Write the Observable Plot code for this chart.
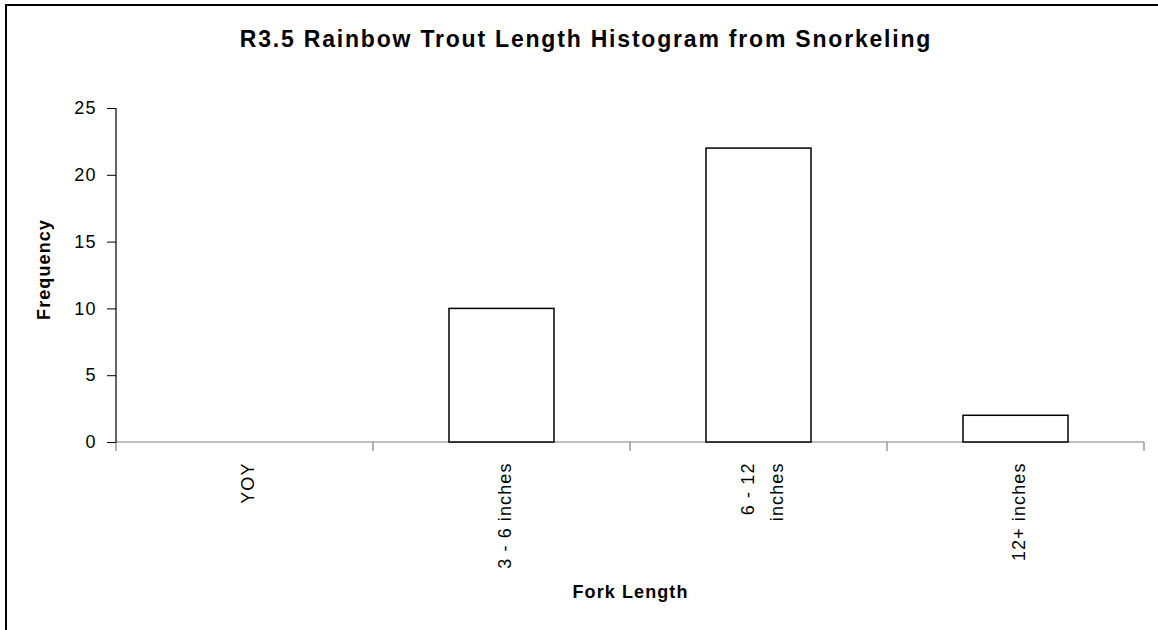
<!DOCTYPE html>
<html><head><meta charset="utf-8">
<script src="https://cdn.jsdelivr.net/npm/d3@7"></script>
<script src="https://cdn.jsdelivr.net/npm/@observablehq/plot@0.6"></script>
<style>
body{margin:0;background:#fff;}
#wrap{position:relative;width:1158px;height:630px;overflow:hidden;font-family:"Liberation Sans",Arial,sans-serif;background:#fff;}
#border{position:absolute;left:5px;top:4px;width:1200px;height:700px;border:2px solid #000;box-sizing:border-box;}
#chart{position:absolute;left:0;top:0;}
#title{position:absolute;left:0;width:1172px;top:26px;text-align:center;font-weight:bold;font-size:23px;letter-spacing:1.8px;color:#000;}
</style></head>
<body>
<div id="wrap"><div id="border"></div><div id="chart"></div><div id="title">R3.5 Rainbow Trout Length Histogram from Snorkeling</div></div>
<script>
const categories = ["YOY", "3 - 6 inches", "6 - 12\ninches", "12+ inches"];
const frequencies = [0, 10, 22, 2];
const yTicks = [0, 5, 10, 15, 20, 25];
const yLabel = "Frequency";
const xLabel = "Fork Length";

const table = categories.map((c, i) => ({category: c, frequency: frequencies[i]}));

const axisLines = (index, scales, values, dims) => {
  const x = scales.x, y = scales.y;
  const bw = x.bandwidth();
  const bounds = categories.map(c => x(c)).concat([x(categories[categories.length - 1]) + bw]);
  const g = d3.create("svg:g");
  g.append("line").attr("x1", bounds[0]).attr("x2", bounds[bounds.length - 1])
    .attr("y1", y(0)).attr("y2", y(0)).attr("stroke", "#808080").attr("stroke-width", 1.2);
  bounds.forEach(b => g.append("line").attr("x1", b).attr("x2", b)
    .attr("y1", y(0)).attr("y2", y(0) + 9).attr("stroke", "#808080").attr("stroke-width", 1.2));
  g.append("line").attr("x1", bounds[0]).attr("x2", bounds[0])
    .attr("y1", y(yTicks[yTicks.length - 1])).attr("y2", y(0)).attr("stroke", "#000").attr("stroke-width", 1.2);
  return g.node();
};

const plot = Plot.plot({
  width: 1158, height: 630,
  marginLeft: 116, marginRight: 14, marginTop: 108, marginBottom: 188,
  style: {fontFamily: '"Liberation Sans", Arial, sans-serif', fontSize: "18px", color: "#000", background: "transparent", letterSpacing: "1.1px"},
  x: {type: "band", domain: categories, padding: 0},
  y: {domain: [0, 25]},
  marks: [
    axisLines,
    Plot.barY(table.filter(d => d.frequency > 0), {x: "category", y: "frequency", fill: "white", stroke: "black", strokeWidth: 1.5, insetLeft: 76, insetRight: 76}),
    Plot.axisY({ticks: yTicks, tickSize: 9, tickPadding: 11, label: null, fontSize: 18}),
    Plot.axisX({tickSize: 0, tickRotate: -90, tickPadding: 20, label: null, fontSize: 18, lineHeight: 1.6}),
    Plot.text([yLabel], {text: d => d, frameAnchor: "left", textAnchor: "middle", lineAnchor: "middle", rotate: -90, dx: -72, dy: -6, fontWeight: "bold", fontSize: 18}),
    Plot.text([xLabel], {text: d => d, frameAnchor: "bottom", textAnchor: "middle", lineAnchor: "middle", dy: 150, fontWeight: "bold", fontSize: 18})
  ]
});
document.getElementById("chart").appendChild(plot);
</script>
</body></html>
